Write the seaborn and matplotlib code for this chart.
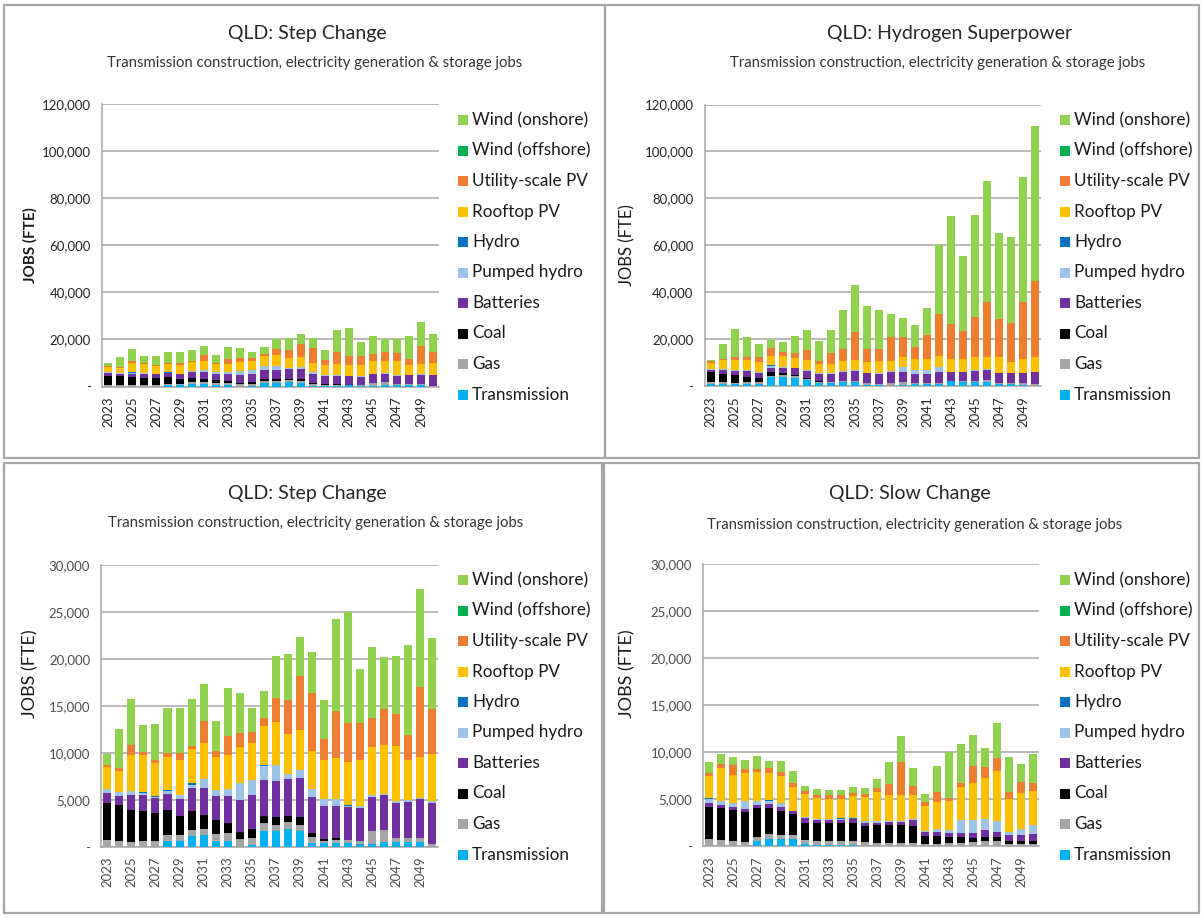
import matplotlib
matplotlib.use("Agg")
import matplotlib.pyplot as plt
from matplotlib.patches import Rectangle
from matplotlib.ticker import FuncFormatter, FixedLocator
import numpy as np
import pandas as pd
import seaborn as sns

# ---------------- DATA ----------------
years = list(range(2023, 2051))
series_names = ["Transmission", "Gas", "Coal", "Batteries", "Pumped hydro", "Hydro",
                "Rooftop PV", "Utility-scale PV", "Wind (offshore)", "Wind (onshore)"]

# QLD: Step Change
step_transmission = [0, 0, 0, 0, 0, 600, 600, 1130, 1200, 640, 640, 0, 140, 1670, 1670, 1915, 1670, 355, 355, 355, 425, 280, 280, 530, 530, 530, 530, 0]
step_gas = [700, 640, 460, 600, 600, 600, 600, 610, 700, 710, 780, 850, 820, 810, 670, 675, 670, 705, 285, 355, 285, 360, 1390, 1240, 360, 360, 360, 280]
step_coal = [3900, 3760, 3440, 3160, 2980, 2740, 2100, 2060, 1470, 1490, 1060, 670, 880, 780, 780, 675, 780, 360, 210, 210, 0, 0, 0, 0, 0, 0, 0, 0]
step_batteries = [1060, 990, 1560, 1700, 1560, 1630, 1800, 2400, 2910, 2550, 2910, 3440, 3620, 3830, 3900, 3970, 4220, 3900, 3480, 3370, 3550, 3510, 3650, 3730, 3720, 3830, 4150, 4400]
step_pumped = [460, 460, 430, 300, 180, 350, 400, 360, 920, 640, 710, 1780, 1630, 1530, 1630, 500, 820, 780, 710, 750, 80, 210, 140, 100, 250, 240, 170, 180]
step_hydro = [60, 0, 60, 100, 60, 110, 0, 180, 0, 0, 0, 0, 0, 60, 0, 0, 0, 0, 0, 0, 60, 0, 0, 0, 0, 0, 0, 0]
step_rooftop = [2270, 2200, 3830, 3900, 3490, 3470, 3720, 3650, 3800, 3540, 3650, 3830, 3940, 4190, 4610, 4255, 4250, 4080, 4180, 4430, 4590, 4860, 5180, 5250, 5850, 4260, 4290, 5000]
step_utility = [290, 280, 1030, 280, 350, 500, 780, 355, 2400, 570, 2050, 1490, 1170, 780, 2590, 3615, 5745, 6130, 2230, 5000, 4130, 3900, 3080, 3760, 3400, 2660, 7520, 4750]
step_offshore = [0] * 28
step_onshore = [1170, 4190, 4930, 2945, 3790, 4750, 4750, 4925, 3900, 3190, 5080, 4290, 2590, 2950, 4470, 4900, 4185, 4400, 4150, 9710, 11810, 5740, 7560, 5530, 6170, 9610, 10390, 7590]

# QLD: Hydrogen Superpower
hyd_transmission = [1130, 1130, 990, 1130, 1130, 3830, 3830, 3545, 2690, 1420, 1420, 1700, 1700, 710, 570, 280, 710, 1130, 1130, 1130, 2130, 1700, 1990, 1990, 1130, 1130, 710, 280]
hyd_gas = [710, 570, 430, 570, 570, 710, 990, 705, 570, 570, 570, 430, 570, 570, 420, 1000, 990, 290, 290, 290, 280, 570, 420, 560, 290, 290, 570, 710]
hyd_coal = [4120, 3690, 3260, 2130, 1700, 1420, 850, 430, 430, 280, 0, 0, 0, 0, 0, 0, 0, 0, 0, 0, 0, 0, 0, 0, 0, 0, 0, 0]
hyd_batteries = [1130, 1410, 1980, 2550, 2270, 1980, 2130, 2980, 2970, 2830, 3400, 4110, 4390, 4250, 4260, 4820, 4400, 3830, 3830, 4680, 3690, 3830, 4250, 4400, 4390, 4110, 4250, 5250]
hyd_pumped = [430, 570, 430, 710, 430, 570, 570, 280, 430, 570, 280, 420, 430, 280, 280, 280, 1980, 1840, 1840, 1980, 0, 0, 290, 280, 0, 0, 0, 0]
hyd_hydro = [0, 0, 0, 0, 0, 420, 0, 0, 0, 0, 0, 0, 0, 0, 0, 0, 0, 0, 0, 0, 0, 0, 0, 0, 0, 0, 0, 0]
hyd_rooftop = [2410, 3690, 4250, 3970, 4110, 3830, 4390, 3970, 3970, 3830, 3970, 4260, 4250, 4400, 5100, 4540, 4540, 4680, 4680, 4820, 5390, 5670, 5390, 5390, 6530, 4960, 5960, 6100]
hyd_utility = [710, 570, 1000, 1280, 2270, 3410, 1990, 2270, 4250, 1420, 4540, 4820, 11920, 5670, 5250, 10070, 8220, 4960, 10070, 17870, 15030, 11910, 17150, 23400, 16300, 16590, 24240, 32470]
hyd_offshore = [0] * 28
hyd_onshore = [700, 6520, 12050, 8650, 5670, 3680, 4250, 7370, 8790, 8510, 9920, 16870, 19990, 18290, 16450, 9780, 8230, 9220, 11340, 29350, 45940, 31910, 43680, 51330, 36590, 36590, 53460, 65940]

# QLD: Slow Change
slow_transmission = [0, 0, 0, 0, 570, 780, 780, 780, 250, 140, 140, 140, 140, 0, 0, 0, 0, 0, 0, 0, 0, 0, 0, 0, 0, 0, 0, 0]
slow_gas = [780, 670, 530, 500, 460, 500, 430, 430, 460, 460, 460, 460, 460, 430, 320, 355, 355, 320, 250, 250, 320, 390, 460, 570, 570, 210, 210, 210]
slow_coal = [3440, 3410, 3340, 3150, 3080, 2830, 2580, 2190, 1810, 1920, 1920, 1920, 1920, 1730, 1910, 1875, 1875, 1840, 880, 880, 710, 640, 460, 460, 390, 390, 390, 320]
slow_batteries = [350, 280, 350, 290, 250, 360, 390, 320, 490, 320, 280, 280, 390, 360, 290, 360, 360, 640, 390, 390, 350, 420, 460, 710, 530, 610, 570, 780]
slow_pumped = [500, 500, 430, 880, 460, 390, 470, 70, 80, 100, 110, 110, 0, 140, 140, 110, 140, 110, 80, 290, 360, 1350, 1420, 1130, 1170, 310, 640, 990]
slow_hydro = [70, 0, 0, 0, 0, 100, 0, 0, 0, 0, 0, 70, 100, 0, 0, 0, 0, 0, 0, 0, 0, 0, 0, 0, 0, 0, 0, 0]
slow_rooftop = [2340, 3440, 2940, 3020, 3090, 2880, 2870, 2560, 2440, 2240, 2160, 2090, 2340, 2620, 3080, 2730, 2730, 2590, 2690, 2910, 3120, 3550, 3970, 4360, 5350, 3480, 3900, 3620]
slow_utility = [290, 420, 1030, 390, 280, 460, 390, 420, 360, 320, 430, 350, 360, 290, 470, 1240, 3510, 950, 460, 1100, 320, 350, 1810, 1240, 1420, 820, 1130, 850]
slow_offshore = [0] * 28
slow_onshore = [1170, 1100, 850, 950, 1380, 780, 1170, 1240, 530, 560, 460, 530, 570, 640, 990, 2300, 2760, 1850, 820, 2730, 4820, 4190, 3220, 2030, 3670, 3650, 1920, 3090]

step_data = [step_transmission, step_gas, step_coal, step_batteries, step_pumped, step_hydro,
             step_rooftop, step_utility, step_offshore, step_onshore]
hyd_data = [hyd_transmission, hyd_gas, hyd_coal, hyd_batteries, hyd_pumped, hyd_hydro,
            hyd_rooftop, hyd_utility, hyd_offshore, hyd_onshore]
slow_data = [slow_transmission, slow_gas, slow_coal, slow_batteries, slow_pumped, slow_hydro,
             slow_rooftop, slow_utility, slow_offshore, slow_onshore]

colors = ["#00B0F0", "#A5A5A5", "#000000", "#7030A0", "#9DC3E6", "#0070C0",
          "#FFC000", "#ED7D31", "#00B050", "#92D050"]

title_text = ["QLD: Step Change", "QLD: Hydrogen Superpower", "QLD: Step Change", "QLD: Slow Change"]
subtitle = "Transmission construction, electricity generation & storage jobs"

# ---------------- STYLE ----------------
sns.set_style("white")
plt.rcParams["font.family"] = ["Lato", "DejaVu Sans"]

W, H = 1201, 917
fig = plt.figure(figsize=(W / 100, H / 100), dpi=100)


def fx(px):
    return px / W


def fy(py):
    return 1 - py / H


# panel frames
frame_color = "#A6A6A6"
for (l, t, r, b) in [(4, 5, 605, 458), (605, 5, 1199, 458), (4, 463, 602, 913), (604, 463, 1199, 913)]:
    fig.add_artist(Rectangle((fx(l), fy(b)), fx(r) - fx(l), fy(t) - fy(b), transform=fig.transFigure,
                             fill=False, edgecolor=frame_color, lw=1.6))

panels = [
    dict(data=step_data, ax=(102, 439, 104, 386.5), ymax=120000, step=20000, title=title_text[0],
         tx=307, ty=33, sx=315, sy=63, ylx=30, yly=245, ylbold=True, ylsize=11,
         legx=463, legy=120, tick_color="#262626"),
    dict(data=hyd_data, ax=(704.7, 1041.3, 104.5, 386.4), ymax=120000, step=20000, title=title_text[1],
         tx=950, ty=33, sx=938, sy=63, ylx=627, yly=245, ylbold=False, ylsize=12,
         legx=1065, legy=120, tick_color="#262626"),
    dict(data=step_data, ax=(101.3, 438.3, 564.7, 846.7), ymax=30000, step=5000, title=title_text[2],
         tx=307, ty=494, sx=316, sy=523, ylx=30, yly=674, ylbold=False, ylsize=13,
         legx=463, legy=580, tick_color="#4D4D4D"),
    dict(data=slow_data, ax=(703, 1039, 564.3, 846.3), ymax=30000, step=5000, title=title_text[3],
         tx=910, ty=494, sx=915, sy=525, ylx=627, yly=674, ylbold=False, ylsize=13,
         legx=1065, legy=580, tick_color="#4D4D4D"),
]

year_labels = [str(y) for y in years]


def fmt(v, pos):
    return "-" if v == 0 else f"{int(v):,}"


for p in panels:
    l, r, t, b = p["ax"]
    ax = fig.add_axes([fx(l), fy(b), fx(r) - fx(l), fy(t) - fy(b)])
    cum = np.cumsum(np.array(p["data"], dtype=float), axis=0)
    # draw from top of stack downward so lower layers overlay
    for i in range(len(series_names) - 1, -1, -1):
        df = pd.DataFrame({"year": year_labels, "value": cum[i]})
        sns.barplot(data=df, x="year", y="value", order=year_labels, color=colors[i],
                    saturation=1, width=0.67, linewidth=0, errorbar=None, ax=ax, zorder=3)
    ax.set_xlabel("")
    ax.set_ylabel("")
    ax.set_xlim(-0.5, len(years) - 0.5)
    ax.set_ylim(0, p["ymax"])
    ax.set_yticks(np.arange(0, p["ymax"] + 1, p["step"]))
    ax.yaxis.set_major_formatter(FuncFormatter(fmt))
    ax.yaxis.grid(True, color="#A6A6A6", lw=1.1, zorder=0)
    ax.xaxis.grid(False)
    ax.set_axisbelow(True)
    for s in ["top", "right"]:
        ax.spines[s].set_visible(False)
    for s in ["left", "bottom"]:
        ax.spines[s].set_color("#A6A6A6")
        ax.spines[s].set_linewidth(1.1)
    ax.xaxis.set_major_locator(FixedLocator(list(range(0, len(years), 2))))
    ax.set_xticklabels(year_labels[::2], rotation=90, fontsize=9.5, color=p["tick_color"])
    ax.xaxis.set_minor_locator(FixedLocator(list(np.arange(-0.5, len(years), 1.0))))
    ax.tick_params(axis="x", which="major", length=0, pad=7)
    ax.tick_params(axis="x", which="minor", length=5, color="#A6A6A6", width=1)
    ax.tick_params(axis="y", which="major", length=5, color="#A6A6A6", width=1,
                   labelsize=9.5, labelcolor=p["tick_color"], pad=3)

    fig.text(fx(p["tx"]), fy(p["ty"]), p["title"], ha="center", va="center", fontsize=14, color="#262626")
    fig.text(fx(p["sx"]), fy(p["sy"]), subtitle, ha="center", va="center", fontsize=10.7, color="#333333")
    fig.text(fx(p["ylx"]), fy(p["yly"]), "JOBS (FTE)", ha="center", va="center", rotation=90,
             fontsize=p["ylsize"], fontweight="bold" if p["ylbold"] else "normal", color="#1A1A1A")

    # legend (top of stack first)
    for k, i in enumerate(range(len(series_names) - 1, -1, -1)):
        yc = p["legy"] + k * 30.5
        fig.add_artist(Rectangle((fx(p["legx"] - 5), fy(yc + 5)), 10 / W, 10 / H,
                                 transform=fig.transFigure, facecolor=colors[i], edgecolor="none"))
        fig.text(fx(p["legx"] + 9), fy(yc), series_names[i], ha="left", va="center",
                 fontsize=12.3, color="#1A1A1A")

fig.savefig("out.png", dpi=100)
